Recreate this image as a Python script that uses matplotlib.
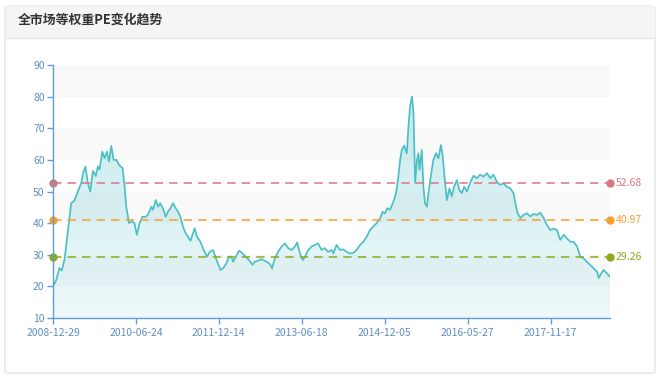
import matplotlib
matplotlib.use('Agg')
import matplotlib.pyplot as plt
import numpy as np
from matplotlib.patches import FancyBboxPatch, Rectangle
from matplotlib.lines import Line2D

plt.rcParams['font.family'] = ['Noto Sans CJK SC', 'DejaVu Sans']

# 数据（交易日序号, PE）
day = [0, 14, 28, 38, 50, 64, 79, 93, 108, 123, 130, 141, 151, 162, 173, 185, 195, 202,
       214, 224, 234, 243, 253, 263, 275, 289, 302, 311, 318, 330, 340, 354, 364, 376,
       388, 402, 412, 427, 434, 446, 456, 466, 477, 489, 499, 510, 521, 533, 543, 553,
       564, 576, 586, 597, 608, 615, 625, 640, 654, 669, 680, 695, 710, 727, 738, 753,
       764, 775, 782, 794, 808, 823, 837, 851, 866, 876, 890, 905, 927, 941, 951, 963,
       977, 992, 1007, 1021, 1036, 1050, 1060, 1072, 1084, 1094, 1108, 1123, 1137, 1151,
       1166, 1180, 1195, 1210, 1217, 1231, 1246, 1260, 1275, 1289, 1304, 1318, 1333, 1347,
       1362, 1376, 1390, 1405, 1420, 1431, 1441, 1451, 1463, 1475, 1485, 1492, 1499, 1507,
       1514, 1524, 1536, 1543, 1550, 1558, 1565, 1572, 1580, 1586, 1591, 1601, 1608, 1615,
       1623, 1630, 1640, 1651, 1663, 1673, 1684, 1692, 1702, 1710, 1721, 1731, 1741, 1753,
       1764, 1775, 1785, 1797, 1811, 1825, 1840, 1854, 1869, 1884, 1898, 1912, 1927, 1941,
       1956, 1970, 1985, 1999, 2007, 2017, 2029, 2043, 2057, 2072, 2086, 2101, 2115, 2130,
       2144, 2159, 2173, 2188, 2202, 2217, 2231, 2246, 2260, 2275, 2289, 2304, 2318, 2333,
       2347, 2362, 2369, 2376, 2390, 2405, 2418]
pe = [20.0, 22.0, 25.8, 25.0, 28.4, 36.9, 46.3, 47.2, 50.0, 52.7, 55.8, 57.9, 52.7, 50.0,
      56.5, 54.9, 57.9, 56.9, 62.6, 60.5, 62.6, 59.5, 64.4, 60.0, 60.0, 58.2, 57.4, 51.5,
      45.2, 40.0, 40.5, 40.0, 36.3, 40.0, 42.0, 42.0, 42.6, 45.2, 44.2, 47.3, 45.2, 46.3,
      44.7, 42.0, 43.6, 44.7, 46.3, 44.7, 43.6, 42.0, 38.9, 36.8, 35.7, 34.4, 36.8, 38.4,
      35.7, 34.1, 31.5, 29.4, 30.9, 31.5, 28.3, 25.2, 25.7, 27.3, 29.4, 29.4, 27.8, 29.4,
      31.3, 30.4, 29.4, 28.3, 26.8, 27.8, 28.1, 28.6, 27.8, 27.1, 25.7, 28.8, 30.9, 32.6,
      33.6, 32.1, 31.5, 32.6, 33.9, 30.4, 28.3, 29.4, 31.5, 32.6, 33.1, 33.6, 31.5, 32.1,
      30.9, 31.5, 30.4, 33.1, 31.5, 31.7, 30.9, 30.4, 30.6, 31.5, 33.1, 34.1, 35.7, 37.8,
      38.9, 40.0, 41.5, 43.6, 43.1, 44.7, 44.2, 46.3, 48.4, 50.5, 54.7, 60.0, 63.1, 64.5,
      62.1, 70.5, 76.9, 80.0, 74.8, 52.7, 60.0, 62.1, 56.9, 63.1, 51.5, 46.3, 45.2, 49.5,
      54.7, 60.0, 62.1, 60.5, 64.7, 61.0, 52.7, 47.3, 51.0, 48.4, 51.5, 53.6, 50.5, 49.5,
      51.5, 50.0, 52.7, 55.0, 54.2, 55.3, 54.7, 55.8, 54.2, 55.3, 53.1, 52.1, 52.6, 51.5,
      51.0, 49.5, 46.3, 43.1, 41.6, 42.6, 43.1, 42.1, 42.9, 42.6, 43.3, 41.6, 39.4, 37.8,
      38.3, 37.8, 34.7, 36.3, 35.2, 34.1, 34.1, 32.6, 29.4, 28.8, 27.8, 26.7, 25.7, 24.6,
      22.6, 23.6, 25.2, 24.1, 23.1]

tick_days = [0, 360, 720, 1080, 1440, 1800, 2160]
tick_labels = ['2008-12-29', '2010-06-24', '2011-12-14', '2013-06-18',
               '2014-12-05', '2016-05-27', '2017-11-17']

ref_values = [52.68, 40.97, 29.26]
ref_colors = ['#d8777f', '#f4a030', '#8cac1e']

axis_color = '#5f9ed6'
label_color = '#5f8ec4'
line_color = '#4cc0c4'

fig = plt.figure(figsize=(6.6, 3.79), dpi=100)
fig.patch.set_facecolor('white')

# 卡片背景
W, H = 660, 379
card = FancyBboxPatch((5 / W, 6 / H), 650 / W, 367 / H, boxstyle='round,pad=0,rounding_size=0.006',
                      transform=fig.transFigure, facecolor='white', edgecolor='#e0e0e0',
                      linewidth=0.8, zorder=-3)
fig.patches.append(card)
header = Rectangle((5.5 / W, 341 / H), 649 / W, 31.5 / H, transform=fig.transFigure,
                   facecolor='#f5f5f5', edgecolor='none', zorder=-2)
fig.patches.append(header)
fig.lines.append(Line2D([5.5 / W, 654.5 / W], [341 / H, 341 / H], transform=fig.transFigure,
                        color='#e3e3e3', linewidth=0.8, zorder=-1))
fig.text(18 / W, 1 - 20 / H, '全市场等权重PE变化趋势', fontsize=9.3, fontweight='bold',
         color='#333333', va='center', ha='left')

ax = fig.add_axes([53 / W, 1 - 318 / H, 557 / W, 253 / H])
ax.set_zorder(1)
ax.set_facecolor('none')

# 分隔区域
for lo in [20, 40, 60, 80]:
    ax.axhspan(lo, lo + 10, color='#f9f9f9', zorder=0, linewidth=0)

# 渐变填充
poly = ax.fill_between(day, pe, 10, color='none', linewidth=0)
grad = np.zeros((256, 2, 4))
t = np.linspace(0, 1, 256)[:, None]
grad[..., 0] = 79 / 255
grad[..., 1] = 192 / 255
grad[..., 2] = 205 / 255
grad[..., 3] = 0.10 + 0.22 * t
im = ax.imshow(grad, extent=[0, day[-1], 10, 80], origin='lower', aspect='auto', zorder=1,
               interpolation='bilinear')
im.set_clip_path(poly.get_paths()[0], transform=ax.transData)
ax.set_xlim(0, day[-1])
ax.set_ylim(10, 90)

ax.plot(day, pe, color=line_color, linewidth=1.25, zorder=3)

# 参考线
for val, c in zip(ref_values, ref_colors):
    ax.axhline(val, color=c, linewidth=1.1, dashes=(5.5, 4), zorder=4)
    ax.plot([0, day[-1]], [val, val], 'o', color=c, markersize=5, clip_on=False, zorder=5)
    ax.text(day[-1] + 25, val, f'{val:.2f}', color=c, fontsize=7.5, va='center', ha='left')

for s in ['top', 'right']:
    ax.spines[s].set_visible(False)
for s in ['left', 'bottom']:
    ax.spines[s].set_color(axis_color)
    ax.spines[s].set_linewidth(1)
    ax.spines[s].set_zorder(6)

ax.set_yticks(range(10, 91, 10))
ax.set_xticks(tick_days)
ax.set_xticklabels(tick_labels)
ax.tick_params(axis='both', colors=axis_color, labelcolor=label_color, labelsize=7.5,
               length=4, width=1)
ax.tick_params(axis='x', pad=3)
ax.tick_params(axis='y', pad=2)

fig.savefig('out.png', dpi=100)
